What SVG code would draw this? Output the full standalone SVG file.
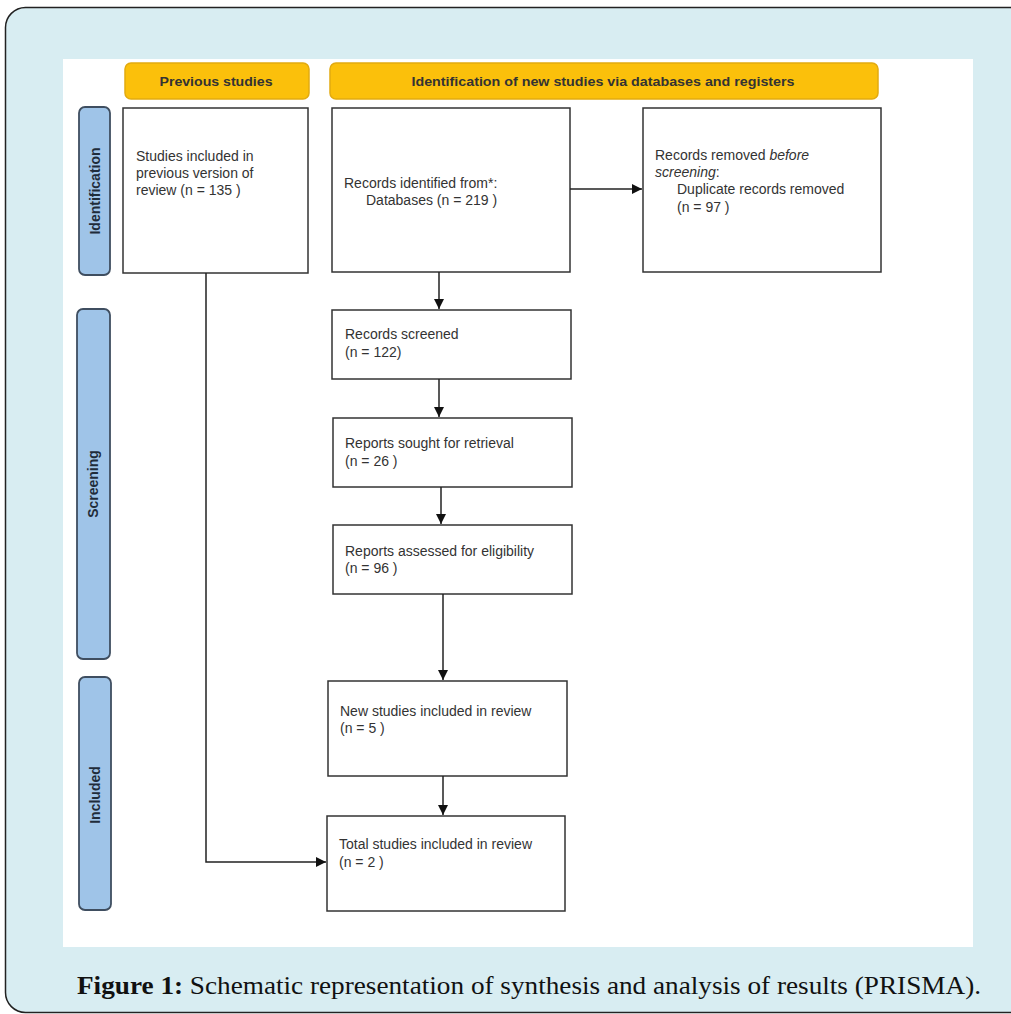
<svg xmlns="http://www.w3.org/2000/svg" width="1011" height="1014" viewBox="0 0 1011 1014">
<defs>
<marker id="ah" viewBox="0 0 10 10" refX="10" refY="5" markerWidth="10" markerHeight="10" markerUnits="userSpaceOnUse" orient="auto">
<path d="M0,0 L10,5 L0,10 z" fill="#111"/>
</marker>
<style>
.box{fill:#fff;stroke:#333;stroke-width:1.5}
.hdr{fill:#fbc00b;stroke:#e2aa10;stroke-width:1.5}
.side{fill:#9fc4e8;stroke:#3f4e60;stroke-width:1.8}
.t{font-family:"Liberation Sans",Arial,sans-serif;font-size:14px;fill:#333}
.h{font-family:"Liberation Sans",Arial,sans-serif;font-size:13px;font-weight:bold;fill:#333}
.s{font-family:"Liberation Sans",Arial,sans-serif;font-size:14px;font-weight:bold;fill:#1f2c3a}
.c{fill:none;stroke:#222;stroke-width:1.5}
.cap{font-family:"Liberation Serif","Times New Roman",serif;font-size:26px;fill:#111}
</style>
</defs>
<rect x="0" y="0" width="1011" height="1014" fill="#fff"/>
<rect x="5.5" y="7.5" width="1100" height="1005" rx="20" fill="#d8edf2" stroke="#222" stroke-width="1.5"/>
<rect x="63" y="59" width="910" height="888" fill="#fff"/>

<g id="hdr-previous"><rect class="hdr" x="125" y="63" width="184" height="36" rx="6"/><text class="h" x="216" y="86" text-anchor="middle" textLength="113" lengthAdjust="spacingAndGlyphs">Previous studies</text></g>
<g id="hdr-new"><rect class="hdr" x="330" y="63" width="548" height="36" rx="6"/><text class="h" x="603" y="86" text-anchor="middle" textLength="383" lengthAdjust="spacingAndGlyphs">Identification of new studies via databases and registers</text></g>

<g id="side-identification"><rect class="side" x="79" y="107" width="31" height="168" rx="6"/><text class="s" transform="translate(100,191) rotate(-90)" text-anchor="middle">Identification</text></g>
<g id="side-screening"><rect class="side" x="77" y="309" width="33" height="350" rx="6"/><text class="s" transform="translate(98,484) rotate(-90)" text-anchor="middle">Screening</text></g>
<g id="side-included"><rect class="side" x="79" y="677" width="32" height="233" rx="6"/><text class="s" transform="translate(100,795) rotate(-90)" text-anchor="middle">Included</text></g>

<g id="previous"><rect class="box" x="123" y="108" width="185" height="165"/>
<text class="t" x="136" y="161">Studies included in</text>
<text class="t" x="136" y="178">previous version of</text>
<text class="t" x="136" y="195">review (n = 135 )</text></g>

<g id="identified"><rect class="box" x="332" y="108" width="238" height="164"/>
<text class="t" x="344" y="188">Records identified from*:</text>
<text class="t" x="366" y="205">Databases (n = 219 )</text></g>

<g id="removed"><rect class="box" x="643" y="108" width="238" height="164"/>
<text class="t" x="655" y="160">Records removed <tspan font-style="italic">before</tspan></text>
<text class="t" x="655" y="177"><tspan font-style="italic">screening</tspan>:</text>
<text class="t" x="677" y="194">Duplicate records removed</text>
<text class="t" x="677" y="212">(n = 97 )</text></g>

<g id="screened"><rect class="box" x="332" y="310" width="239" height="69"/>
<text class="t" x="345" y="339">Records screened</text>
<text class="t" x="345" y="357">(n = 122)</text></g>

<g id="sought"><rect class="box" x="333" y="418" width="239" height="69"/>
<text class="t" x="345" y="448">Reports sought for retrieval</text>
<text class="t" x="345" y="466">(n = 26 )</text></g>

<g id="assessed"><rect class="box" x="333" y="525" width="239" height="69"/>
<text class="t" x="345" y="556">Reports assessed for eligibility</text>
<text class="t" x="345" y="573">(n = 96 )</text></g>

<g id="new-included"><rect class="box" x="328" y="681" width="239" height="95"/>
<text class="t" x="340" y="716">New studies included in review</text>
<text class="t" x="340" y="733">(n = 5 )</text></g>

<g id="total-included"><rect class="box" x="327" y="816" width="238" height="95"/>
<text class="t" x="339" y="849">Total studies included in review</text>
<text class="t" x="339" y="867">(n = 2 )</text></g>

<g id="connectors">
<line class="c" x1="570" y1="189" x2="642" y2="189" marker-end="url(#ah)"/>
<line class="c" x1="439" y1="272" x2="439" y2="309" marker-end="url(#ah)"/>
<line class="c" x1="439" y1="379" x2="439" y2="417" marker-end="url(#ah)"/>
<line class="c" x1="441" y1="487" x2="441" y2="524" marker-end="url(#ah)"/>
<line class="c" x1="443" y1="594" x2="443" y2="680" marker-end="url(#ah)"/>
<line class="c" x1="443" y1="776" x2="443" y2="815" marker-end="url(#ah)"/>
<polyline class="c" points="206,273 206,862 326,862" marker-end="url(#ah)"/>
</g>

<text class="cap" x="77" y="994" textLength="904" lengthAdjust="spacingAndGlyphs"><tspan font-weight="bold">Figure 1:</tspan> Schematic representation of synthesis and analysis of results (PRISMA).</text>
</svg>
